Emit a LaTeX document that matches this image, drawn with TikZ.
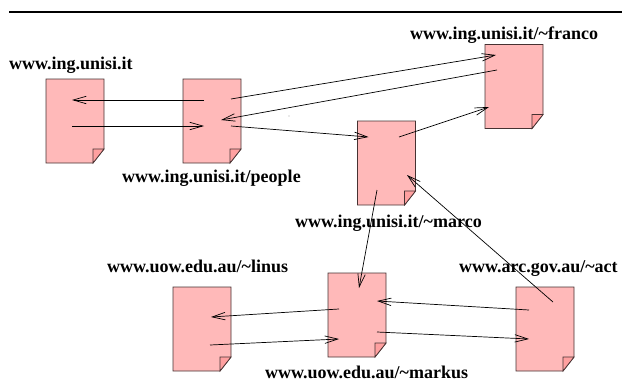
\documentclass[tikz,border=0pt]{standalone}
\usepackage{fontspec}
\setmainfont{Liberation Serif}
\usetikzlibrary{arrows.meta}
\definecolor{pagepink}{RGB}{255,185,185}
\definecolor{foldpink}{RGB}{255,160,160}
\definecolor{pageline}{RGB}{70,50,50}
\tikzset{
    pagenode/.style={minimum width=58pt, minimum height=84pt, inner sep=0pt, outer sep=0pt},
    pageedge/.style={draw=pageline, fill=pagepink, line width=.9pt},
    foldedge/.style={draw=pageline, fill=foldpink, line width=.7pt},
    link/.style={line width=.7pt, -{Straight Barb[length=13pt,width=7.5pt,line width=.7pt]}},
    urllabel/.style={anchor=base west, inner sep=0pt, font=\fontsize{18}{20}\selectfont\bfseries}
}
\begin{document}
\begin{tikzpicture}[x=1pt, y=-1pt]
    \useasboundingbox (0,0) rectangle (622,381);

    % Top rule
    \draw[line width=2pt] (9,12) -- (622,12);

    % Pages with a folded corner
    \foreach \pg/\px/\py in {unisi/75/121, people/212/121, franco/514/86.5, marco/386.5/163,
                             linus/202/329, markus/357/315, act/545/329} {
        \node[pagenode] (\pg) at (\px,\py) {};
        \draw[pageedge] (\pg.north west) -- (\pg.north east) -- ([yshift=14pt]\pg.south east)
            -- ([xshift=-11pt]\pg.south east) -- (\pg.south west) -- cycle;
        \draw[foldedge] ([yshift=14pt]\pg.south east) -- ([xshift=-11pt,yshift=14pt]\pg.south east)
            -- ([xshift=-11pt]\pg.south east) -- cycle;
    }

    % Links, offsets are from the top left corner of each page
    \foreach \src/\sx/\sy/\dst/\dx/\dy in {
        people/21/21/unisi/26/21,
        unisi/26/47/people/21/47,
        people/48/20/franco/11/10.5,
        franco/12/25.5/people/38/41,
        people/48/47/marco/11/16,
        marco/41.5/16/franco/4/62.5,
        marco/19.5/69/markus/31/15,
        act/37/15/marco/49.5/54,
        act/13/23/markus/49/28,
        markus/49/59/act/13/52,
        markus/11/36/linus/38/30,
        linus/37/58/markus/11/66} {
        \draw[link] ([shift={(\sx,\sy)}]\src.north west) -- ([shift={(\dx,\dy)}]\dst.north west);
    }

    % Stray dot
    \fill (289,116) circle (.4pt);

    % Labels
    \node[urllabel] (unisilabel) at (9,69.5) {www.ing.unisi.it};
    \node[urllabel] (peoplelabel) at (122,182) {www.ing.unisi.it/people};
    \node[urllabel] (francolabel) at (410,39) {www.ing.unisi.it/\textasciitilde franco};
    \node[urllabel] (marcolabel) at (295,227) {www.ing.unisi.it/\textasciitilde marco};
    \node[urllabel] (linuslabel) at (107,272) {www.uow.edu.au/\textasciitilde linus};
    \node[urllabel] (actlabel) at (459,272) {www.arc.gov.au/\textasciitilde act};
    \node[urllabel] (markuslabel) at (265,378) {www.uow.edu.au/\textasciitilde markus};
\end{tikzpicture}
\end{document}
